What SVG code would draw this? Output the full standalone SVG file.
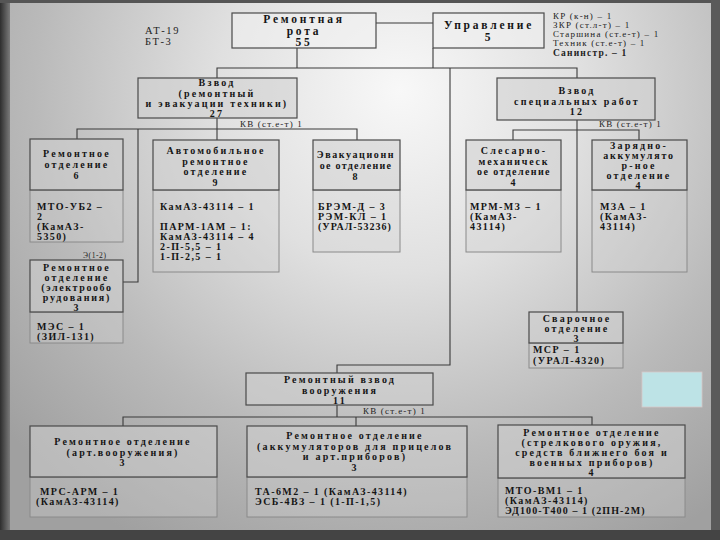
<svg xmlns="http://www.w3.org/2000/svg" width="720" height="540" viewBox="0 0 720 540">
<defs>
<radialGradient id="bg" cx="400" cy="90" r="520" gradientUnits="userSpaceOnUse">
<stop offset="0" stop-color="#f8f8f8"/>
<stop offset="0.35" stop-color="#e0e0e0"/>
<stop offset="0.7" stop-color="#bababa"/>
<stop offset="1" stop-color="#a0a0a0"/>
</radialGradient>
<linearGradient id="lft" x1="0" y1="0" x2="1" y2="0">
<stop offset="0" stop-color="#2e2e2e"/>
<stop offset="1" stop-color="#7a7a7a"/>
</linearGradient>
<style>
.hd{fill:#cfcfcf;fill-opacity:0.55;stroke:#4a4a4a;stroke-width:1.2}
.bd{fill:#d0d0d0;fill-opacity:0.35;stroke:#8a8a8a;stroke-width:1}
.c{fill:none;stroke:#3a3a3a;stroke-width:1.1}
.h{font-family:"Liberation Serif","Times New Roman",serif;font-weight:bold;font-size:10px;letter-spacing:2.2px;fill:#151515;text-anchor:middle}
.b{font-family:"Liberation Serif","Times New Roman",serif;font-weight:bold;font-size:10px;letter-spacing:1.4px;fill:#151515}
.t{font-family:"Liberation Serif","Times New Roman",serif;font-weight:bold;font-size:11.5px;letter-spacing:2.8px;fill:#151515;text-anchor:middle}
.s{font-family:"Liberation Serif","Times New Roman",serif;font-size:9px;letter-spacing:1.2px;fill:#222}
</style>
</defs>
<rect x="0" y="0" width="720" height="540" fill="url(#bg)"/>
<rect x="0" y="0" width="10" height="540" fill="url(#lft)"/>
<rect x="0" y="0" width="720" height="3" fill="#555"/>
<rect x="711" y="0" width="9" height="540" fill="#5a5a5a"/>
<rect x="0" y="530" width="720" height="10" fill="#444"/>

<g id="connectors">
<path class="c" d="M376,23 H433"/>
<path class="c" d="M297,48 V68"/>
<path class="c" d="M433,48 V68"/>
<path class="c" d="M217,78 V68 H577 V78"/>
<path class="c" d="M450,68 V365 H337 V373"/>
<path class="c" d="M217,118 V140"/>
<path class="c" d="M77,139 V129 H357 V140"/>
<path class="c" d="M138,129 V282 H123"/>
<path class="c" d="M577,120 V312"/>
<path class="c" d="M513,140 V130 H639 V140"/>
<path class="c" d="M337,405 V417"/>
<path class="c" d="M123,426 V417 H592 V425"/>
<path class="c" d="M356,417 V426"/>
</g>

<g id="notes">
<text class="s" x="145" y="34" style="font-size:10.5px;letter-spacing:1.6px">АТ-19</text>
<text class="s" x="145" y="45" style="font-size:10.5px;letter-spacing:1.6px">БТ-3</text>
<text class="s" x="553" y="19">КР (к-н) – 1</text>
<text class="s" x="553" y="28">ЗКР (ст.л-т) – 1</text>
<text class="s" x="553" y="37">Старшина (ст.е-т) – 1</text>
<text class="s" x="553" y="46">Техник (ст.е-т) – 1</text>
<text class="s" x="553" y="56" style="font-weight:bold;font-size:9.5px">Санинстр. – 1</text>
<text class="s" x="240" y="127">КВ (ст.е-т) 1</text>
<text class="s" x="599" y="127">КВ (ст.е-т) 1</text>
<text class="s" x="83" y="258" style="font-size:7.5px;letter-spacing:0.6px">Э(1-2)</text>
<text class="s" x="363" y="414">КВ (ст.е-т) 1</text>
</g>

<g id="rota">
<rect class="hd" x="232" y="13" width="144" height="35" style="fill:#f0f0f0"/>
<text class="t" x="304" y="23">Ремонтная</text>
<text class="t" x="304" y="34.5">рота</text>
<text class="t" x="304" y="46">55</text>
</g>

<g id="upravlenie">
<rect class="hd" x="433" y="13" width="111" height="35" style="fill:#f0f0f0"/>
<text class="t" x="489" y="29">Управление</text>
<text class="t" x="489" y="41">5</text>
</g>

<g id="vzvod-remont">
<rect class="hd" x="138" y="78" width="159" height="40"/>
<text class="h" x="217" y="86">Взвод</text>
<text class="h" x="217" y="96.5">(ремонтный</text>
<text class="h" x="217" y="107">и эвакуации техники)</text>
<text class="h" x="217" y="117">27</text>
</g>

<g id="vzvod-spec">
<rect class="hd" x="497" y="78" width="158" height="42"/>
<text class="h" x="577" y="94">Взвод</text>
<text class="h" x="577" y="104.5">специальных работ</text>
<text class="h" x="577" y="115">12</text>
</g>

<g id="otd-6">
<rect class="bd" x="30" y="190" width="93" height="52"/>
<rect class="hd" x="30" y="139" width="93" height="51"/>
<text class="h" x="77" y="157">Ремонтное</text>
<text class="h" x="77" y="168">отделение</text>
<text class="h" x="77" y="179">6</text>
<text class="b" x="37" y="210">МТО-УБ2 –</text>
<text class="b" x="37" y="220">2</text>
<text class="b" x="37" y="230">(КамАЗ-</text>
<text class="b" x="37" y="240">5350)</text>
</g>

<g id="otd-avto">
<rect class="bd" x="153" y="190" width="126" height="82"/>
<rect class="hd" x="153" y="140" width="126" height="50"/>
<text class="h" x="216" y="154">Автомобильное</text>
<text class="h" x="216" y="164.5">ремонтное</text>
<text class="h" x="216" y="175">отделение</text>
<text class="h" x="216" y="185.5">9</text>
<text class="b" x="160" y="210">КамАЗ-43114 – 1</text>
<text class="b" x="160" y="230">ПАРМ-1АМ – 1:</text>
<text class="b" x="160" y="240">КамАЗ-43114 – 4</text>
<text class="b" x="160" y="250">2-П-5,5 – 1</text>
<text class="b" x="160" y="260">1-П-2,5 – 1</text>
</g>

<g id="otd-evak">
<rect class="bd" x="313" y="190" width="87" height="62"/>
<rect class="hd" x="313" y="140" width="87" height="50"/>
<text class="h" x="356" y="158" style="letter-spacing:1.6px">Эвакуационн</text>
<text class="h" x="356" y="169" style="letter-spacing:1.3px">ое отделение</text>
<text class="h" x="356" y="180">8</text>
<text class="b" x="318" y="210">БРЭМ-Д – 3</text>
<text class="b" x="318" y="220">РЭМ-КЛ – 1</text>
<text class="b" x="318" y="230" style="letter-spacing:1px">(УРАЛ-53236)</text>
</g>

<g id="otd-slesar">
<rect class="bd" x="466" y="190" width="95" height="62"/>
<rect class="hd" x="466" y="140" width="95" height="50"/>
<text class="h" x="514" y="154">Слесарно-</text>
<text class="h" x="514" y="164.5" style="letter-spacing:1.8px">механическ</text>
<text class="h" x="514" y="175" style="letter-spacing:1.4px">ое отделение</text>
<text class="h" x="514" y="185.5">4</text>
<text class="b" x="470" y="210">МРМ-МЗ – 1</text>
<text class="b" x="470" y="220">(КамАЗ-</text>
<text class="b" x="470" y="230">43114)</text>
</g>

<g id="otd-zaryad">
<rect class="bd" x="592" y="190" width="95" height="82"/>
<rect class="hd" x="592" y="140" width="95" height="50"/>
<text class="h" x="639" y="149">Зарядно-</text>
<text class="h" x="639" y="159" style="letter-spacing:1.8px">аккумулято</text>
<text class="h" x="639" y="169">р-ное</text>
<text class="h" x="639" y="179">отделение</text>
<text class="h" x="639" y="189">4</text>
<text class="b" x="600" y="210">МЗА – 1</text>
<text class="b" x="600" y="220">(КамАЗ-</text>
<text class="b" x="600" y="230">43114)</text>
</g>

<g id="otd-elektro">
<rect class="bd" x="30" y="312" width="93" height="31"/>
<rect class="hd" x="30" y="260" width="93" height="52"/>
<text class="h" x="77" y="271">Ремонтное</text>
<text class="h" x="77" y="281">отделение</text>
<text class="h" x="77" y="291" style="letter-spacing:1.6px">(электрообо</text>
<text class="h" x="77" y="301" style="letter-spacing:1.8px">рудования)</text>
<text class="h" x="77" y="310.5">3</text>
<text class="b" x="37" y="330">МЭС – 1</text>
<text class="b" x="37" y="340">(ЗИЛ-131)</text>
</g>

<g id="otd-svar">
<rect class="bd" x="529" y="343" width="94" height="25"/>
<rect class="hd" x="529" y="312" width="94" height="31"/>
<text class="h" x="577" y="321.5">Сварочное</text>
<text class="h" x="577" y="331.5">отделение</text>
<text class="h" x="577" y="341.5">3</text>
<text class="b" x="533" y="353">МСР – 1</text>
<text class="b" x="533" y="363.5">(УРАЛ-4320)</text>
</g>

<rect x="642" y="372" width="60" height="35" fill="#bde3e6" stroke="#d8c8c8" stroke-width="0.8"/>

<g id="vzvod-vooruzh">
<rect class="hd" x="246" y="373" width="187" height="32"/>
<text class="h" x="340" y="383">Ремонтный взвод</text>
<text class="h" x="340" y="393.5">вооружения</text>
<text class="h" x="340" y="404">11</text>
</g>

<g id="otd-art">
<rect class="bd" x="30" y="477" width="187" height="40"/>
<rect class="hd" x="30" y="426" width="187" height="51"/>
<text class="h" x="123" y="445">Ремонтное отделение</text>
<text class="h" x="123" y="455.5">(арт.вооружения)</text>
<text class="h" x="123" y="466">3</text>
<text class="b" x="40" y="495">МРС-АРМ – 1</text>
<text class="b" x="36" y="505">(КамАЗ-43114)</text>
</g>

<g id="otd-akkum">
<rect class="bd" x="247" y="477" width="220" height="40"/>
<rect class="hd" x="247" y="426" width="220" height="51"/>
<text class="h" x="355" y="439">Ремонтное отделение</text>
<text class="h" x="355" y="449.5">(аккумуляторов для прицелов</text>
<text class="h" x="355" y="460">и арт.приборов)</text>
<text class="h" x="355" y="470.5">3</text>
<text class="b" x="255" y="495">ТА-6М2 – 1 (КамАЗ-43114)</text>
<text class="b" x="255" y="505">ЭСБ-4ВЗ – 1 (1-П-1,5)</text>
</g>

<g id="otd-strelk">
<rect class="bd" x="498" y="478" width="187" height="39"/>
<rect class="hd" x="498" y="425" width="187" height="53"/>
<text class="h" x="592" y="435.5">Ремонтное отделение</text>
<text class="h" x="592" y="445.5">(стрелкового оружия,</text>
<text class="h" x="592" y="455.5">средств ближнего боя и</text>
<text class="h" x="592" y="465.5">военных приборов)</text>
<text class="h" x="592" y="475.5">4</text>
<text class="b" x="505" y="494">МТО-ВМ1 – 1</text>
<text class="b" x="505" y="504">(КамАЗ-43114)</text>
<text class="b" x="505" y="514" style="letter-spacing:1.1px">ЭД100-Т400 – 1 (2ПН-2М)</text>
</g>
</svg>
